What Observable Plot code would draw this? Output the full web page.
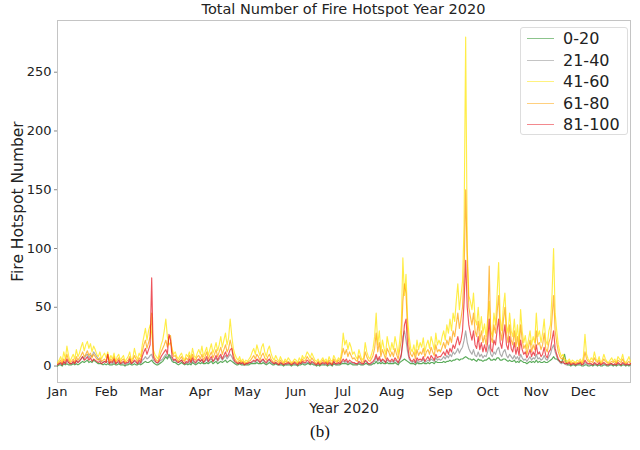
<!DOCTYPE html>
<html>
<head>
<meta charset="utf-8">
<script src="https://cdn.jsdelivr.net/npm/d3@7"></script>
<script src="https://cdn.jsdelivr.net/npm/@observablehq/plot@0.6"></script>
<style>
  html, body { margin: 0; padding: 0; background: #fff; }
  #wrap { position: relative; width: 640px; height: 450px; font-family: "DejaVu Sans", sans-serif; }
  #title { height: 18px; line-height: 18px; font-size: 14.5px; color: #222; text-align: center; padding-left: 57px; padding-right: 10px; box-sizing: border-box; width: 640px; }
  #caption { height: 32px; line-height: 32px; font-family: "Liberation Serif", serif; font-size: 17px; text-align: center; color: #111; width: 640px; }
  #legend { position: absolute; left: 520px; top: 27px; width: 108px; height: 108px; border: 1px solid #ddd; border-radius: 3px; background: rgba(255,255,255,0.85); box-sizing: border-box; }
  .row { position: absolute; left: 0; height: 21.4px; display: flex; align-items: center; font-size: 16px; color: #222; }
  .sw { width: 27px; height: 0; margin-left: 6px; margin-right: 9px; }
</style>
</head>
<body>
<div id="wrap">
  <div id="title">Total Number of Fire Hotspot Year 2020</div>
  <div id="chart"></div>
  <div id="caption">(b)</div>
  <div id="legend"></div>
</div>
<script>
// Series names, colours (daily values 1 Jan - 31 Dec 2020; one line per month)
const seriesNames = ["0-20", "21-40", "41-60", "61-80", "81-100"];
const seriesColors = ["#1a8a1a", "#8a8a8a", "#ffe600", "#ffa200", "#e8141e"];

const v0_20 = [
  0,1,1,0,2,1,2,1,1,1,2,1,2,1,2,3,4,3,4,5,3,4,3,5,4,3,2,2,2,1,2,
  1,2,1,1,1,2,1,1,2,1,1,1,0,1,1,2,1,1,2,1,1,2,1,2,3,4,3,3,4,
  5,3,2,1,1,2,3,4,6,8,6,10,7,4,3,3,2,1,2,3,2,1,2,1,2,1,3,2,1,2,3,
  2,3,2,2,3,2,3,4,2,3,4,2,3,4,3,4,5,3,4,5,4,3,2,1,1,2,1,1,1,1,
  1,1,2,2,2,2,3,2,2,2,3,2,1,2,3,2,1,1,2,1,1,1,1,0,1,1,1,1,0,1,1,
  1,0,1,1,2,1,1,2,2,1,2,1,1,0,1,0,1,1,1,1,0,1,1,0,2,1,1,1,1,2,
  2,2,2,1,2,2,1,1,1,1,2,1,1,1,2,2,1,1,1,2,2,4,2,3,2,3,2,2,3,2,2,
  2,2,3,2,1,3,4,5,6,5,4,3,2,2,2,1,3,2,2,2,3,2,2,3,2,3,3,2,4,3,3,
  3,3,4,3,4,4,5,4,5,5,6,6,5,6,6,7,8,7,6,6,5,6,5,4,6,5,5,4,5,5,
  6,7,5,5,6,5,7,7,5,5,6,6,5,4,5,4,4,5,3,4,3,5,4,3,3,2,3,4,3,4,3,
  5,3,4,3,3,4,3,3,4,5,6,8,6,6,5,4,3,6,10,3,1,1,0,1,1,0,1,1,1,0,
  0,1,1,0,0,1,0,1,1,0,1,0,0,1,1,0,0,1,1,0,1,0,1,1,0,1,1,0,1,0,1
];
const v21_40 = [
  1,2,2,1,3,2,4,3,2,2,3,2,4,3,5,6,8,6,9,10,7,9,8,12,10,8,6,5,4,3,4,
  3,4,2,3,2,4,2,3,3,2,2,3,1,2,2,4,2,3,4,3,2,3,2,5,6,8,6,7,9,
  10,5,4,3,2,4,5,6,8,10,8,7,9,6,4,5,3,3,4,5,3,2,3,2,4,2,5,3,2,4,5,
  4,5,3,4,6,3,5,6,4,5,7,4,6,8,5,7,9,6,8,10,8,5,3,2,2,3,2,2,1,2,
  2,2,3,3,4,3,5,4,3,4,5,3,2,4,5,3,2,2,3,2,1,2,2,1,2,1,2,2,1,2,2,
  1,1,2,2,3,2,2,3,3,2,3,2,1,1,2,1,2,2,1,2,1,2,2,1,3,2,1,2,2,3,
  4,3,4,2,3,3,2,2,2,1,3,2,1,2,4,3,2,1,2,3,4,8,4,6,3,5,4,3,5,4,3,
  4,3,5,4,2,5,8,25,30,22,12,6,4,3,4,2,5,3,4,4,6,3,4,5,4,6,5,4,7,5,6,
  5,6,8,6,9,7,10,8,12,10,12,15,11,14,16,22,30,20,15,12,10,14,9,8,12,8,10,7,9,8,
  12,18,10,8,12,10,14,16,10,8,12,14,9,7,10,8,6,9,6,8,5,10,7,5,6,4,6,8,5,7,6,
  10,6,7,5,6,9,6,5,8,10,15,18,12,8,5,3,2,3,2,1,1,2,1,1,2,1,1,2,2,1,
  1,3,2,1,1,1,1,2,1,1,2,1,1,2,1,1,1,1,2,1,1,1,2,1,1,2,1,1,1,1,1
];
const v41_60 = [
  3,5,8,4,12,6,17,9,4,7,10,6,14,8,11,16,20,13,18,21,15,19,12,17,14,10,8,12,6,9,11,
  7,12,5,9,6,11,4,8,10,5,7,9,4,6,8,12,5,7,15,9,6,11,8,18,25,32,22,30,35,
  28,14,10,8,6,12,18,22,30,40,25,18,20,15,10,12,8,6,9,11,7,5,10,8,12,6,15,9,7,11,14,
  10,17,8,12,16,9,14,19,11,15,20,13,18,25,16,22,28,18,24,40,26,15,10,7,5,8,4,6,3,5,
  4,6,8,12,15,10,18,13,9,16,19,12,8,14,17,11,7,5,9,6,4,8,5,3,6,4,7,5,3,4,6,
  5,3,7,4,9,6,8,12,10,7,11,8,5,4,6,3,5,7,4,6,3,8,5,4,9,6,4,7,5,12,
  28,18,22,14,20,16,10,12,8,6,14,9,5,7,20,12,8,6,10,15,25,45,18,30,12,22,15,10,25,18,12,
  20,14,25,18,10,22,35,92,60,78,40,25,15,12,18,10,22,14,20,16,24,12,18,22,15,25,20,14,28,18,22,
  18,25,30,22,35,28,40,30,45,38,55,70,48,60,72,120,280,100,60,55,48,62,40,35,50,30,42,28,36,25,
  40,55,30,25,45,35,60,88,40,30,50,62,35,28,45,30,25,40,22,35,18,48,30,20,26,15,22,30,18,25,20,
  45,25,30,20,28,40,22,18,30,35,60,100,45,30,18,12,8,10,6,5,4,6,3,5,4,3,5,4,6,3,
  8,27,10,6,4,7,5,12,6,4,8,3,5,10,6,4,3,5,7,4,6,3,8,6,5,10,4,3,5,8,4
];
const v61_80 = [
  2,3,5,2,6,4,10,5,3,4,6,3,8,5,7,9,12,8,10,13,9,11,7,10,8,6,5,7,4,5,6,
  4,10,3,6,4,8,3,5,7,3,5,6,3,4,5,8,3,5,9,6,4,7,5,12,18,22,15,20,25,
  45,10,7,5,4,8,12,15,18,22,16,25,26,12,8,9,6,4,6,8,5,4,7,5,9,4,10,6,5,8,9,
  6,10,5,8,12,6,9,12,7,10,14,8,12,16,10,14,18,12,15,22,16,10,6,4,3,5,3,4,2,3,
  3,4,5,7,9,6,10,8,5,9,11,7,5,8,10,6,4,3,5,4,2,5,3,2,4,3,4,3,2,3,4,
  3,2,4,3,6,4,5,8,6,4,7,5,3,2,4,2,3,5,3,4,2,5,3,2,6,4,3,5,3,8,
  15,10,14,8,12,9,6,7,5,4,9,6,3,4,12,8,5,4,6,9,15,28,12,20,8,14,10,6,15,12,8,
  12,8,15,10,6,14,22,55,70,62,30,16,10,8,12,6,14,9,12,10,15,8,12,14,10,16,12,9,18,12,14,
  12,16,20,15,22,18,25,20,30,25,35,45,32,40,50,80,150,90,50,42,35,45,30,25,38,22,30,20,26,18,
  30,85,25,20,35,28,45,60,30,22,38,50,28,20,35,22,18,30,16,25,14,35,22,15,18,10,16,22,12,18,14,
  30,18,20,14,18,28,15,12,20,24,40,60,30,20,12,8,6,7,4,3,3,4,2,3,3,2,3,3,4,2,
  4,12,6,4,3,4,3,7,4,3,5,2,3,6,4,3,2,3,4,3,4,2,5,4,3,6,3,2,3,4,2
];
const v81_100 = [
  1,2,3,1,4,2,6,3,2,2,4,2,5,3,4,6,8,5,6,8,5,7,4,6,5,4,3,4,2,3,4,
  3,10,2,4,3,6,2,3,5,2,3,4,2,3,3,6,2,3,5,4,2,5,3,8,12,15,10,14,18,
  75,8,5,3,3,5,8,10,12,14,10,27,22,8,5,6,4,3,4,5,3,2,4,3,6,3,7,4,3,5,6,
  4,6,3,5,8,4,6,8,4,6,9,5,8,10,6,9,12,8,10,14,15,7,4,3,2,3,2,3,1,2,
  2,3,3,4,5,4,6,5,3,5,6,4,3,5,6,4,3,2,3,2,1,3,2,1,2,2,3,2,1,2,3,
  2,1,3,2,4,3,3,5,4,2,4,3,2,1,3,1,2,3,2,3,1,3,2,1,4,2,2,3,2,4,
  6,4,6,3,5,4,3,3,2,2,4,3,2,2,5,4,2,2,3,4,6,10,5,8,4,6,5,3,7,5,4,
  6,4,7,5,3,6,10,20,35,40,18,8,5,4,6,3,7,5,6,5,8,4,6,8,5,9,7,5,10,7,8,
  8,10,12,9,14,10,15,12,18,15,20,25,18,22,30,55,90,50,35,28,22,30,18,15,25,14,20,12,18,12,
  20,40,15,12,22,18,30,40,20,15,25,35,18,14,25,15,12,20,10,16,9,22,14,10,12,7,10,14,8,12,9,
  18,10,12,8,10,16,9,7,12,14,22,30,15,10,6,4,3,4,2,2,2,3,1,2,2,1,2,2,3,1,
  2,5,3,2,2,2,1,3,2,1,3,1,2,3,2,1,1,2,2,1,2,1,3,2,1,3,2,1,2,1,2
];
const yTicks = [0, 50, 100, 150, 200, 250];
const monthTicks = d3.utcMonth.range(new Date(Date.UTC(2020, 0, 1)), new Date(Date.UTC(2020, 11, 2)));
const yLabel = "Fire Hotspot Number";
const xLabel = "Year 2020";

const seriesValues = [v0_20, v21_40, v41_60, v61_80, v81_100];
const rows = [];
seriesValues.forEach((vals, k) => {
  vals.forEach((v, i) => rows.push({date: new Date(Date.UTC(2020, 0, 1 + i)), value: v, group: seriesNames[k]}));
});
const lastDate = new Date(Date.UTC(2020, 0, v41_60.length));

const chart = Plot.plot({
  width: 640,
  height: 398,
  marginTop: 2,
  marginLeft: 57,
  marginRight: 10,
  marginBottom: 34,
  style: {fontFamily: "DejaVu Sans, sans-serif", fontSize: "13px", color: "#222", background: "transparent"},
  x: {type: "utc", domain: [new Date(Date.UTC(2020, 0, 1)), lastDate]},
  y: {domain: [-14, 294]},
  color: {domain: seriesNames, range: seriesColors},
  marks: [
    Plot.frame({stroke: "#c4c4c4"}),
    Plot.axisY({ticks: yTicks, tickSize: 3, tickPadding: 3, stroke: "#888", label: null}),
    Plot.axisX({ticks: monthTicks, tickFormat: d3.utcFormat("%b"), tickSize: 0, tickPadding: 4, label: null}),
    Plot.text([yLabel], {frameAnchor: "left", textAnchor: "middle", lineAnchor: "middle", rotate: -90, dx: -39, fontSize: 15.5, fill: "#222"}),
    Plot.text([xLabel], {frameAnchor: "bottom", textAnchor: "middle", lineAnchor: "middle", dy: 26, fontSize: 14, fill: "#222"}),
    Plot.line(rows, {x: "date", y: "value", z: "group", stroke: "group", strokeWidth: 1.15, strokeOpacity: 0.72})
  ]
});
document.getElementById("chart").appendChild(chart);

const legend = document.getElementById("legend");
seriesNames.forEach((name, i) => {
  const row = document.createElement("div");
  row.className = "row";
  row.style.top = (0.3 + i * 21.4) + "px";
  const sw = document.createElement("div");
  sw.className = "sw";
  sw.style.borderTop = "1.5px solid " + seriesColors[i];
  sw.style.opacity = 0.5;
  const label = document.createElement("span");
  label.textContent = name;
  row.appendChild(sw);
  row.appendChild(label);
  legend.appendChild(row);
});
</script>
</body>
</html>
